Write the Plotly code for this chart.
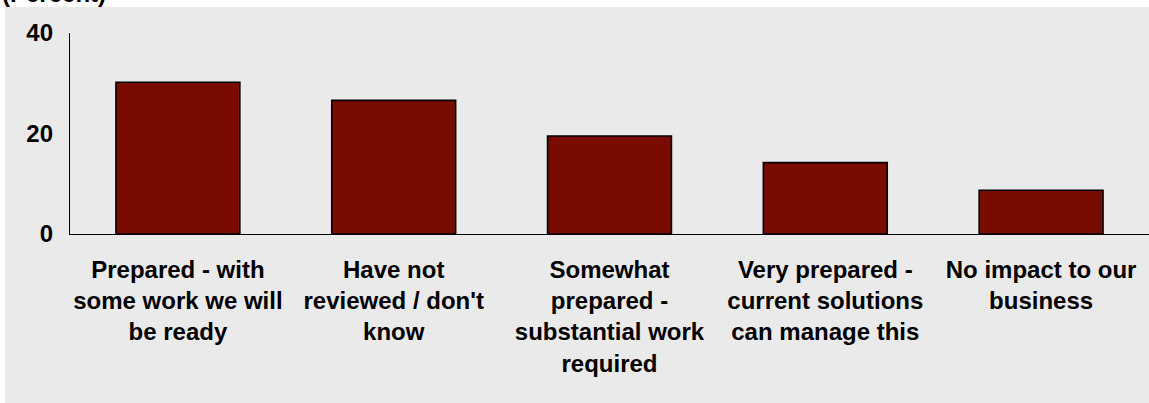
import plotly.graph_objects as go

categories = [
    "Prepared - with<br>some work we will<br>be ready",
    "Have not<br>reviewed / don't<br>know",
    "Somewhat<br>prepared -<br>substantial work<br>required",
    "Very prepared -<br>current solutions<br>can manage this",
    "No impact to our<br>business",
]
values = [30.2, 26.6, 19.5, 14.2, 8.7]
y_ticks = [0, 20, 40]
title_text = "(Percent)"

W, H = 1149, 403
L, R, T, B = 70, 0, 33, 169
pw = W - L - R
ph = H - T - B

def px_x(x):
    return (x - L) / pw

def px_y(y):
    return (H - B - y) / ph

FONT = "Liberation Sans, Arial, sans-serif"

fig = go.Figure()
fig.add_trace(go.Bar(
    x=list(range(len(categories))),
    y=values,
    marker=dict(color="#7a0b00", line=dict(color="#000000", width=1.6)),
    hoverinfo="skip",
))

fig.add_shape(type="rect", xref="paper", yref="paper",
              x0=px_x(5), x1=px_x(W + 10), y0=px_y(H + 10), y1=px_y(7),
              fillcolor="#eaeaea", line=dict(width=0), layer="below")

fig.add_annotation(text="<b>" + title_text + "</b>", xref="paper", yref="paper",
                   x=px_x(0), y=px_y(-7), xanchor="left", yanchor="middle",
                   showarrow=False, font=dict(family=FONT, size=24, color="#000000"))

fig.update_layout(
    width=W, height=H,
    margin=dict(l=L, r=R, t=T, b=B, pad=0),
    paper_bgcolor="#ffffff",
    plot_bgcolor="#eaeaea",
    bargap=0.426,
    showlegend=False,
    font=dict(family=FONT, size=24, color="#000000"),
    xaxis=dict(
        tickmode="array",
        tickvals=list(range(len(categories))),
        ticktext=["<b>" + c.replace("<br>", "</b><br><b>") + "</b>" for c in categories],
        range=[-0.5, len(categories) - 0.5],
        showline=True, linecolor="#000000", linewidth=1.3,
        showgrid=False, zeroline=False, ticks="",
        tickangle=0,
        ticklabelstandoff=14,
        tickfont=dict(family=FONT, size=24, color="#000000"),
    ),
    yaxis=dict(
        range=[0, 40],
        tickmode="array",
        tickvals=y_ticks,
        ticktext=["<b>%d</b>" % v for v in y_ticks],
        showline=True, linecolor="#000000", linewidth=1.3,
        showgrid=False, zeroline=False, ticks="",
        ticklabelstandoff=11,
        tickfont=dict(family=FONT, size=24, color="#000000"),
    ),
)

fig.write_html("out.html", config={"displayModeBar": False},
               post_script="document.body.style.margin='0px';document.body.style.overflow='hidden';")
